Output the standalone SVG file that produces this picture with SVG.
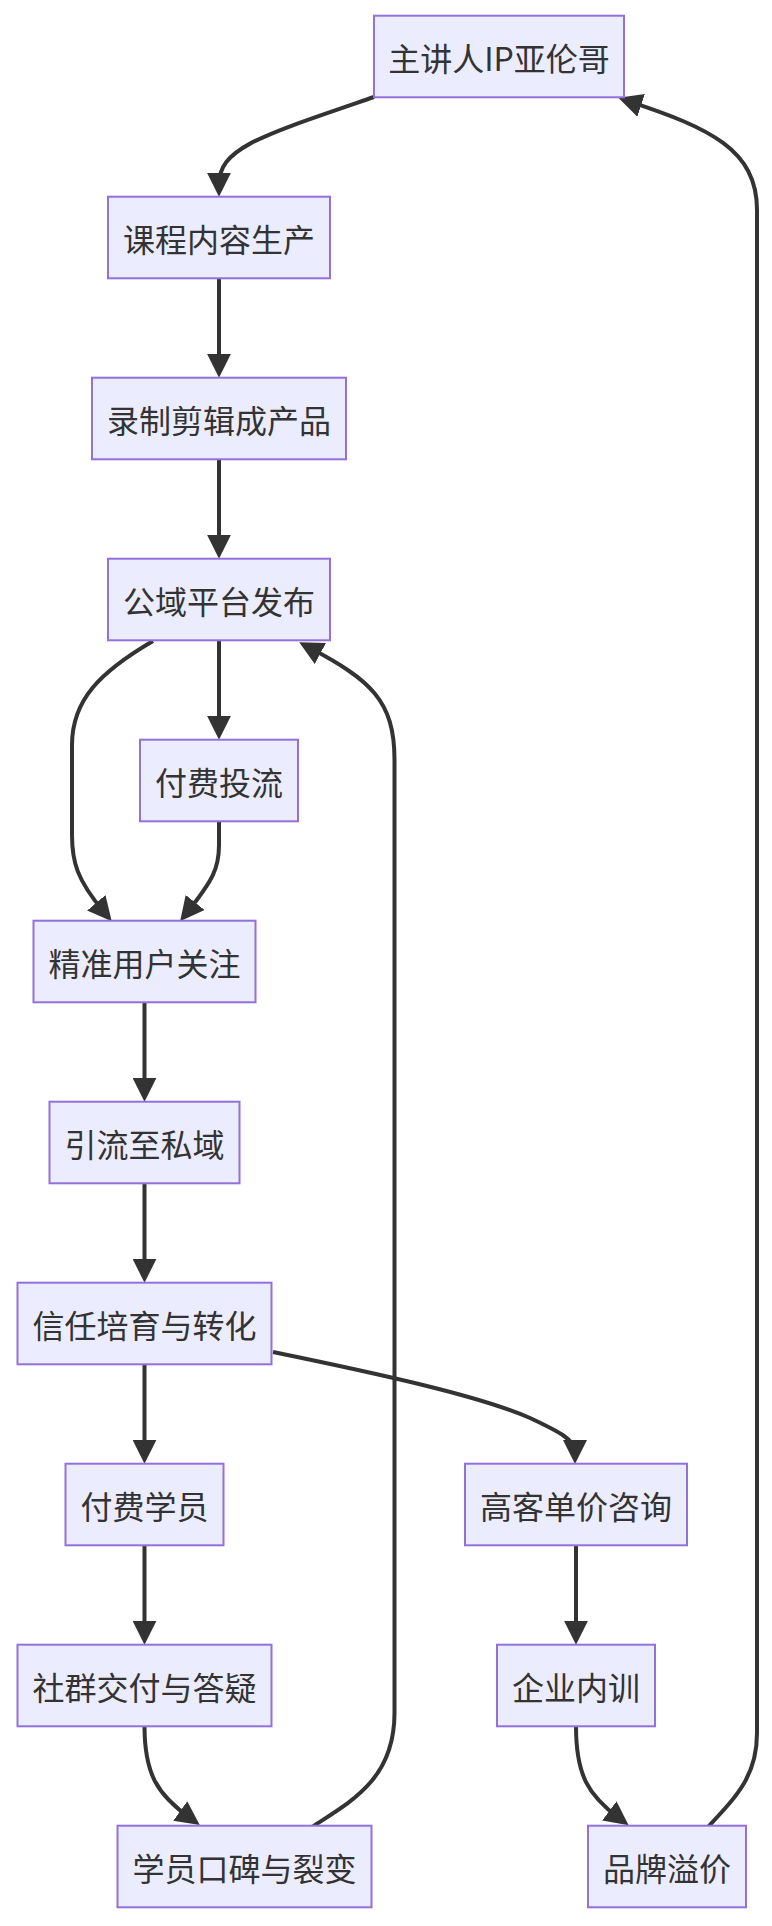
<svg xmlns="http://www.w3.org/2000/svg" width="772" height="1926" viewBox="0 0 772 1926">
<style>
.node rect{fill:#ECECFF;stroke:#9370DB;stroke-width:2}
.node text{font-family:"Noto Sans CJK SC","Noto Sans",sans-serif;font-size:32px;fill:#333;text-anchor:middle;dominant-baseline:central}
.edges path{fill:none;stroke:#333;stroke-width:4}
</style>
<defs>
<marker id="arr" viewBox="0 0 10 10" refX="5" refY="5" markerUnits="userSpaceOnUse" markerWidth="24" markerHeight="24" orient="auto">
<path d="M0,0 L10,5 L0,10 z" fill="#333"/>
</marker>
</defs>
<rect width="772" height="1926" fill="#fff"/>
<g class="edges">
<path marker-end="url(#arr)" d="M374,97 C260,136 219,148 219,184.7"/>
<path marker-end="url(#arr)" d="M219,278.3 L219,365.7"/>
<path marker-end="url(#arr)" d="M219,459.3 L219,546.7"/>
<path marker-end="url(#arr)" d="M219,640.3 L219,727.7"/>
<path marker-end="url(#arr)" d="M153,641 C100,672 72,700 72,745 L72,835 C72,862 77,880 104,912"/>
<path marker-end="url(#arr)" d="M219,821.3 L219,845 C219,868 213,880 187.6,911.8"/>
<path marker-end="url(#arr)" d="M144.5,1002.3 L144.5,1089.7"/>
<path marker-end="url(#arr)" d="M144.5,1183.3 L144.5,1270.7"/>
<path marker-end="url(#arr)" d="M144.5,1364.3 L144.5,1451.7"/>
<path marker-end="url(#arr)" d="M273,1352 C380,1374 480,1396 530,1418 C560,1432 575,1440 575,1452"/>
<path marker-end="url(#arr)" d="M144.5,1545.3 L144.5,1632.7"/>
<path marker-end="url(#arr)" d="M576,1545.3 L576,1632.7"/>
<path marker-end="url(#arr)" d="M144.5,1726.3 C144.5,1775 158,1795 190,1818"/>
<path marker-end="url(#arr)" d="M576,1726.3 C576,1775 588,1795 619,1818"/>
<path marker-end="url(#arr)" d="M312,1827 C350,1802 394.5,1780 394.5,1713 L394.5,760 C394.5,700 370,680 309.8,647.8"/>
<path marker-end="url(#arr)" d="M708,1827 C738,1795 757,1775 757,1733 L757,210 C757,150 710,128 629.7,101.6"/>
</g>
<g id="A" class="node"><rect x="374" y="15.7" width="250" height="81.6"/><text x="499" y="56.5">主讲人IP亚伦哥</text></g>
<g id="B" class="node"><rect x="108" y="196.7" width="222" height="81.6"/><text x="219" y="237.5">课程内容生产</text></g>
<g id="C" class="node"><rect x="92" y="377.7" width="254" height="81.6"/><text x="219" y="418.5">录制剪辑成产品</text></g>
<g id="D" class="node"><rect x="108" y="558.7" width="222" height="81.6"/><text x="219" y="599.5">公域平台发布</text></g>
<g id="E" class="node"><rect x="140" y="739.7" width="158" height="81.6"/><text x="219" y="780.5">付费投流</text></g>
<g id="F" class="node"><rect x="33.5" y="920.7" width="222" height="81.6"/><text x="144.5" y="961.5">精准用户关注</text></g>
<g id="G" class="node"><rect x="49.5" y="1101.7" width="190" height="81.6"/><text x="144.5" y="1142.5">引流至私域</text></g>
<g id="H" class="node"><rect x="17.5" y="1282.7" width="254" height="81.6"/><text x="144.5" y="1323.5">信任培育与转化</text></g>
<g id="I" class="node"><rect x="65.5" y="1463.7" width="158" height="81.6"/><text x="144.5" y="1504.5">付费学员</text></g>
<g id="J" class="node"><rect x="465" y="1463.7" width="222" height="81.6"/><text x="576" y="1504.5">高客单价咨询</text></g>
<g id="K" class="node"><rect x="17.5" y="1644.7" width="254" height="81.6"/><text x="144.5" y="1685.5">社群交付与答疑</text></g>
<g id="L" class="node"><rect x="497" y="1644.7" width="158" height="81.6"/><text x="576" y="1685.5">企业内训</text></g>
<g id="M" class="node"><rect x="117.5" y="1825.7" width="254" height="81.6"/><text x="244.5" y="1866.5">学员口碑与裂变</text></g>
<g id="N" class="node"><rect x="588" y="1825.7" width="158" height="81.6"/><text x="667" y="1866.5">品牌溢价</text></g>
</svg>
